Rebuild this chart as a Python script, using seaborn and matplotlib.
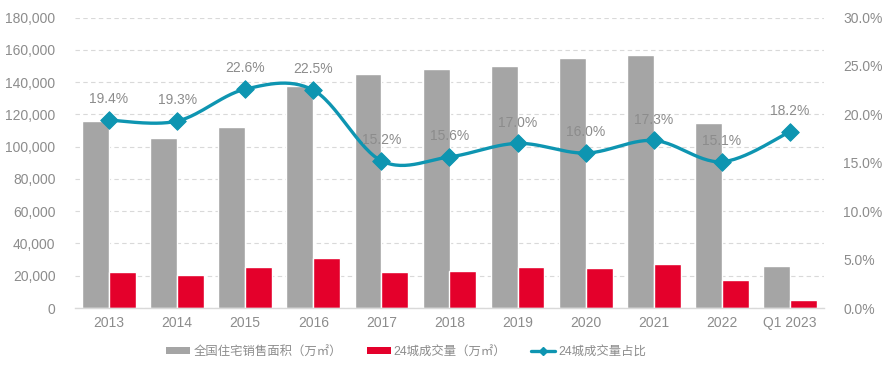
import numpy as np
import pandas as pd
import matplotlib
matplotlib.use("Agg")
import matplotlib.pyplot as plt
import matplotlib.ticker as mticker
from matplotlib.lines import Line2D
from matplotlib.patches import Patch
import seaborn as sns

categories = ["2013", "2014", "2015", "2016", "2017", "2018", "2019", "2020", "2021", "2022", "Q1 2023"]
national_sales = [116000, 105500, 112200, 137600, 145000, 148100, 150000, 155000, 156900, 114600, 26200]
city24_sales = [22500, 20300, 25300, 31000, 22000, 23100, 25500, 24800, 27100, 17300, 4800]
city24_share = [0.194, 0.193, 0.226, 0.225, 0.152, 0.156, 0.170, 0.160, 0.173, 0.151, 0.182]

series_names = ["全国住宅销售面积（万㎡）", "24城成交量（万㎡）", "24城成交量占比"]

GRAY = "#A5A5A5"
RED = "#E4002B"
TEAL = "#0E95B1"
TXT = "#8C8C8C"

sns.set_theme(style="white")
plt.rcParams["font.family"] = ["Liberation Sans", "Noto Sans CJK SC", "DejaVu Sans"]

df = pd.DataFrame({
    "category": categories * 2,
    "series": [series_names[0]] * len(categories) + [series_names[1]] * len(categories),
    "value": national_sales + city24_sales,
})

fig = plt.figure(figsize=(8.87, 3.69), dpi=100)
ax = fig.add_axes([75 / 887, 1 - 308 / 369, (824 - 75) / 887, (308 - 17.5) / 369])

sns.barplot(data=df, x="category", y="value", hue="series", order=categories,
            hue_order=series_names[:2], palette=[GRAY, RED], width=0.79, gap=0,
            saturation=1, ax=ax, legend=False, errorbar=None)

ax.set_xlim(-0.5, len(categories) - 0.5)
ax.set_ylim(0, 180000)
ax.set_yticks(np.arange(0, 180001, 20000))
ax.yaxis.set_major_formatter(mticker.FuncFormatter(lambda v, p: f"{v:,.0f}"))
ax.set_xlabel("")
ax.set_ylabel("")
ax.grid(axis="y", color="#D9D9D9", linestyle=(0, (4, 3)), linewidth=0.8)
ax.set_axisbelow(True)
for s in ["top", "right", "left"]:
    ax.spines[s].set_visible(False)
ax.spines["bottom"].set_color("#D9D9D9")
ax.spines["bottom"].set_linewidth(1.0)
ax.tick_params(axis="both", length=0, labelsize=10, labelcolor=TXT)
ax.tick_params(axis="y", pad=14)
ax.tick_params(axis="x", pad=6)

ax2 = ax.twinx()
ax2.set_ylim(0, 0.30)
ax2.set_yticks(np.arange(0, 0.3001, 0.05))
ax2.yaxis.set_major_formatter(mticker.FuncFormatter(lambda v, p: f"{v * 100:.1f}%"))
ax2.tick_params(axis="y", length=0, labelsize=10, labelcolor=TXT, pad=14)
for s in ax2.spines.values():
    s.set_visible(False)
ax2.grid(False)

# smooth (Catmull-Rom) curve through the share points, like a spreadsheet smoothed line
xs = np.arange(len(categories), dtype=float)
ys = np.array(city24_share)
px = np.concatenate([[xs[0]], xs, [xs[-1]]])
py = np.concatenate([[ys[0]], ys, [ys[-1]]])
cx, cy = [], []
t = np.linspace(0, 1, 30)
for i in range(1, len(px) - 2):
    p0, p1, p2, p3 = (np.array([px[j], py[j]]) for j in (i - 1, i, i + 1, i + 2))
    c1 = p1 + (p2 - p0) / 6
    c2 = p2 - (p3 - p1) / 6
    for tt in t:
        pt = ((1 - tt) ** 3) * p1 + 3 * ((1 - tt) ** 2) * tt * c1 + 3 * (1 - tt) * tt ** 2 * c2 + tt ** 3 * p2
        cx.append(pt[0]); cy.append(pt[1])
ax2.plot(cx, cy, color=TEAL, linewidth=2.4, solid_capstyle="round", zorder=3)
sns.scatterplot(x=xs, y=ys, marker="D", s=80, color=TEAL, edgecolor=TEAL, ax=ax2, zorder=4, legend=False)

for xi, yi in zip(xs, ys):
    ax2.annotate(f"{yi * 100:.1f}%", (xi, yi), xytext=(0, 15), textcoords="offset points",
                 ha="center", va="center", fontsize=10, color=TXT)

handles = [
    Patch(facecolor=GRAY, edgecolor="none"),
    Patch(facecolor=RED, edgecolor="none"),
    Line2D([0], [0], color=TEAL, linewidth=2.4, marker="D", markersize=4),
]
fig.legend(handles, series_names, loc="center", bbox_to_anchor=(0.458, 0.046), ncol=3,
           frameon=False, fontsize=8.9, labelcolor=TXT, handlelength=1.95, handleheight=0.55,
           handletextpad=0.25, columnspacing=2.0)

fig.savefig("out.png", dpi=100)
